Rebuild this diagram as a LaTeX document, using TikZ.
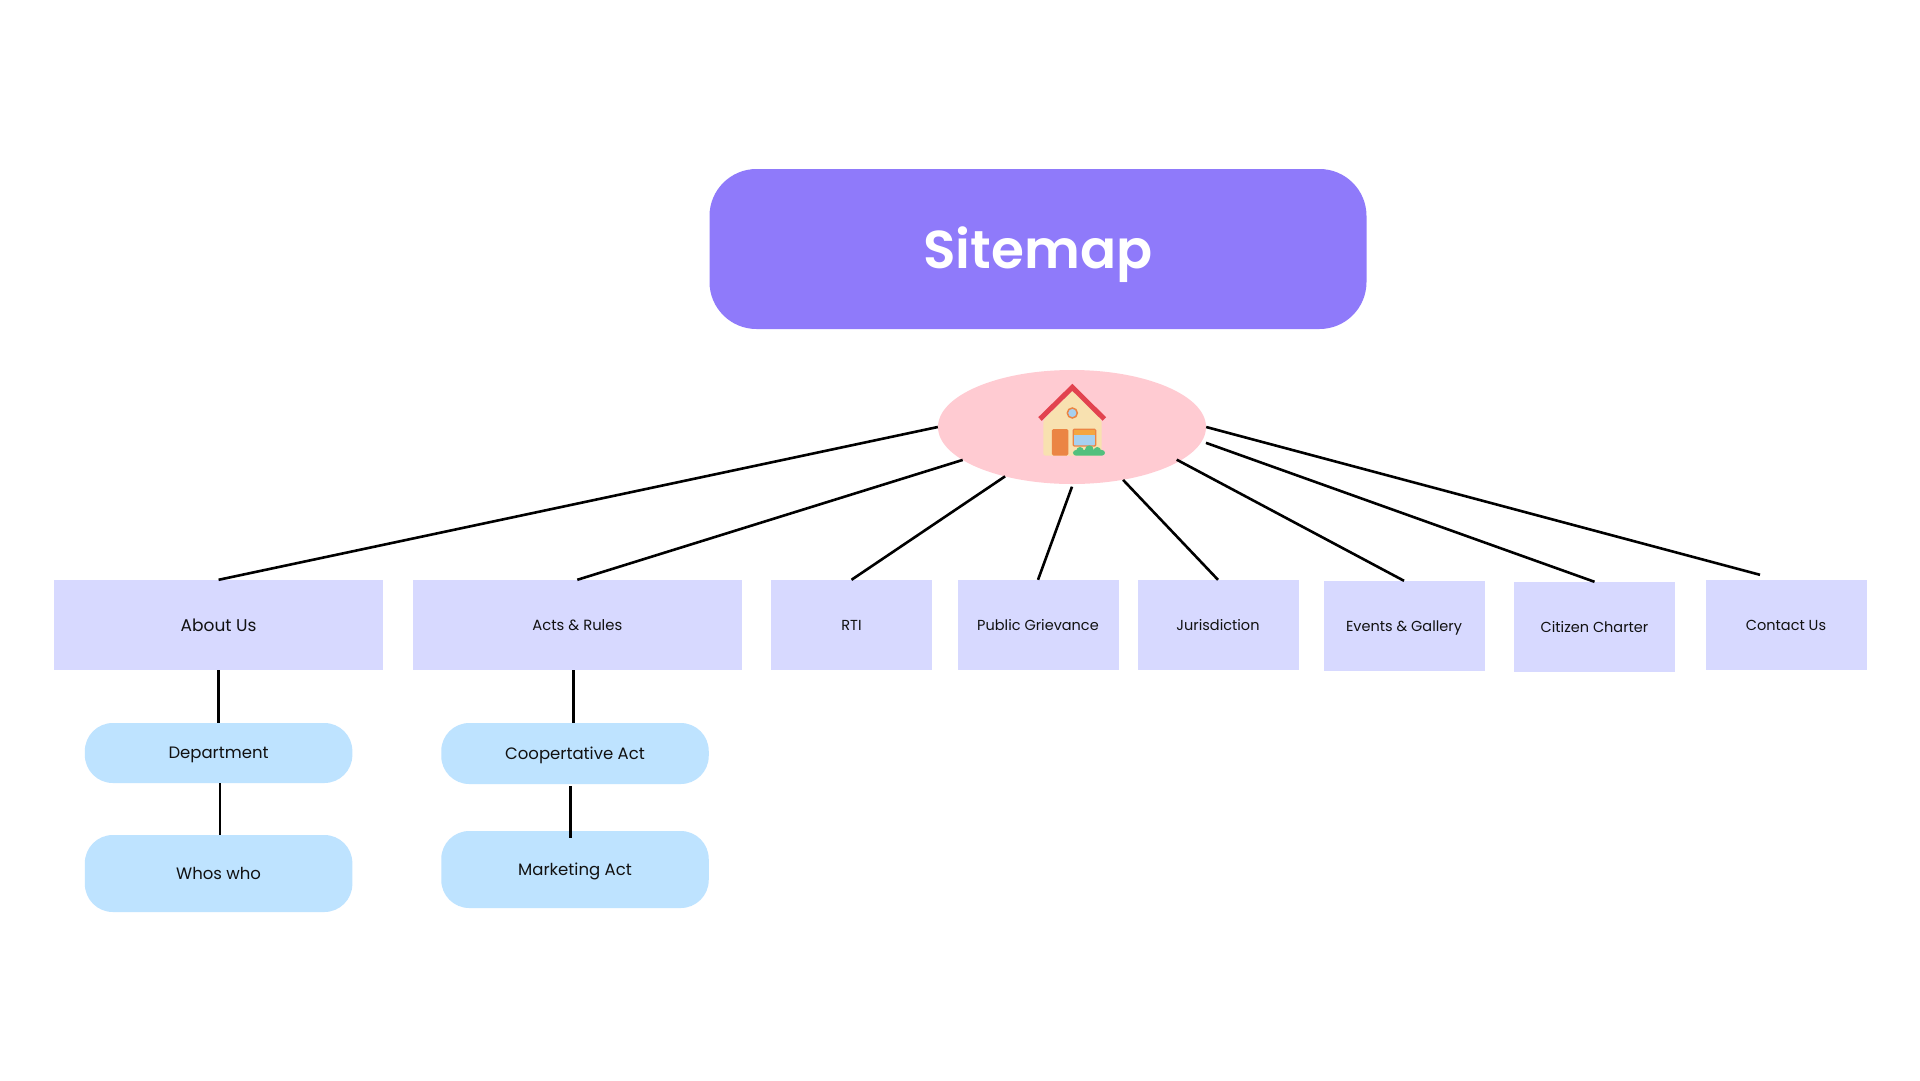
\documentclass[tikz,border=0pt]{standalone}
\usepackage{fontspec}
\setmainfont{Poppins}
\newfontfamily\titlefont{Poppins SemiBold}
\usetikzlibrary{shapes.geometric}
\definecolor{titlebg}{HTML}{8F7AFA}
\definecolor{pinkbg}{HTML}{FFCBD2}
\definecolor{boxbg}{HTML}{D7D9FF}
\definecolor{pillbg}{HTML}{BEE3FF}
\definecolor{wall}{HTML}{F8E1B0}
\definecolor{roof}{HTML}{E2434F}
\definecolor{doorc}{HTML}{EB8544}
\definecolor{glass}{HTML}{A6D0F0}
\definecolor{awning}{HTML}{F4A640}
\definecolor{bush}{HTML}{52C07E}
\definecolor{ink}{HTML}{111111}
\tikzset{
  boxbase/.style={rectangle,fill=boxbg,inner sep=0pt,minimum height=90pt,text=ink,text height=14.5pt,text depth=3pt,font=\fontsize{14.5}{18}\selectfont},
  widebox/.style={boxbase,minimum width=329.5pt},
  narrowbox/.style={boxbase,minimum width=161pt},
  pill/.style={rectangle,rounded corners=28pt,fill=pillbg,inner sep=0pt,minimum width=267.5pt,text=ink,text height=14.5pt,text depth=3pt,font=\fontsize{16.5}{20}\selectfont},
  link/.style={draw=black,line width=2.6pt}
}
\begin{document}
\begin{tikzpicture}[x=1pt,y=-1pt]
\useasboundingbox[fill=white] (0,0) rectangle (1920,1080);
\node[rectangle,rounded corners=47pt,fill=titlebg,inner sep=0pt,minimum width=657pt,minimum height=160pt,text=white,text height=50pt,text depth=11pt,font=\titlefont\fontsize{53.3}{60}\selectfont] (title) at (1038,249) {Sitemap};
\node[ellipse,fill=pinkbg,inner sep=0pt,minimum width=268pt,minimum height=114pt] (home) at (1072,427) {};
\node[widebox,text height=15.5pt,font=\fontsize{17}{20}\selectfont] (about) at (218.6,625) {About Us};
\node[widebox,font=\fontsize{14.8}{18}\selectfont] (acts) at (577.3,625) {Acts \& Rules};
\node[narrowbox] (rti) at (851.5,625) {RTI};
\node[narrowbox] (grievance) at (1038,625) {Public Grievance};
\node[narrowbox] (juris) at (1218,625) {Jurisdiction};
\node[narrowbox] (events) at (1404,626) {Events \& Gallery};
\node[narrowbox] (citizen) at (1594.5,627) {Citizen Charter};
\node[narrowbox] (contact) at (1786,625) {Contact Us};
\node[pill,minimum height=60pt] (dept) at (218.6,753) {Department};
\node[pill,minimum height=77pt] (whos) at (218.6,873.5) {Whos who};
\node[pill,minimum height=61pt] (coop) at (575,753.5) {Coopertative Act};
\node[pill,minimum height=77pt] (market) at (575,869.5) {Marketing Act};
% connectors
\draw[link] (home.west) -- (about.north);
\draw[link] ([xshift=2pt,yshift=-1pt]home.196.7) -- (acts.north);
\draw[link] ([xshift=1pt]home.216.2) -- (rti.north);
\draw[link] ([yshift=-2.5pt]home.270) -- (grievance.north);
\draw[link] (home.314) -- (juris.north);
\draw[link] ([xshift=-2pt,yshift=2pt]home.342.4) -- (events.north);
\draw[link] ([xshift=5pt]home.353.2) -- (citizen.north);
\draw[link] (home.east) -- ([xshift=-26pt,yshift=5pt]contact.north);
\draw[link] (about.south) -- (dept.north);
\draw[link] ([xshift=-4pt]acts.south) -- ([xshift=-1.7pt]coop.north);
\draw[link] ([xshift=1.4pt]dept.south) -- ([xshift=1.4pt]whos.north);
\draw[link] ([xshift=-4.4pt,yshift=-2pt]coop.south) -- ([xshift=-4.4pt,yshift=-7pt]market.north);
% house icon
\begin{scope}[shift={(920,350)},x=0.3333pt,y=-0.3333pt]
\fill[wall,rounded corners=2pt] (370,317) -- (370,210) -- (457,122) -- (545,210) -- (545,317) -- cycle;
\draw[roof,line width=5pt,line join=miter] (360,207) -- (457,112) -- (553,207);
\draw[doorc,fill=glass,line width=1.5pt] (457,189) circle (15);
\fill[doorc,rounded corners=1.5pt] (396,237) rectangle (445,317);
\draw[doorc,fill=glass,line width=1.3pt,rounded corners=1pt] (460,238) rectangle (527,288);
\fill[awning] (462,241) rectangle (525,256);
\fill[bush,rounded corners=3pt] (459,300) rectangle (555,317);
\fill[bush] (480,302) circle (11) (508,299) circle (13) (532,302) circle (11);
\end{scope}
\end{tikzpicture}
\end{document}
